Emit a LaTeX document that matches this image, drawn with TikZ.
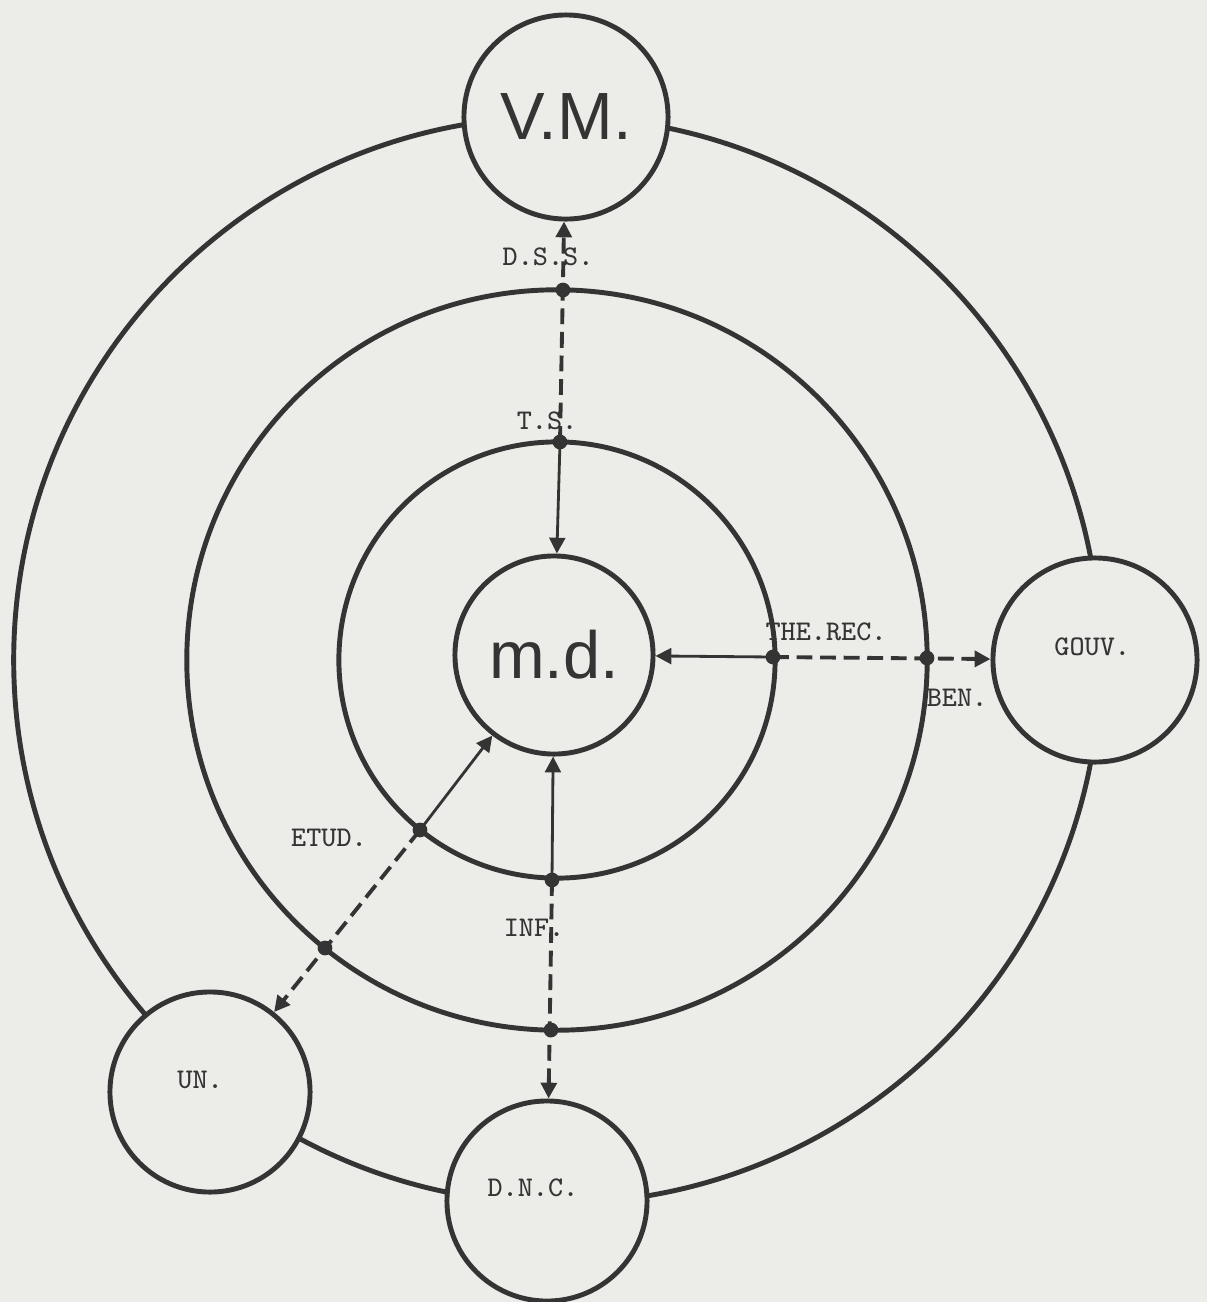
\documentclass[tikz,border=0pt]{standalone}
\usepackage{fontspec}
\usepackage{tikz}
\usetikzlibrary{arrows.meta, positioning, calc}
\newfontfamily\hubfont{Liberation Sans}
\definecolor{paper}{RGB}{236,236,233}
\definecolor{ink}{RGB}{52,52,52}

\begin{document}
\begin{tikzpicture}[x=0.01cm, y=-0.01cm]
    \tikzstyle{ring} = [draw=ink, line width=1.4pt]
    \tikzstyle{hub} = [circle, draw=ink, line width=1.4pt, fill=paper, inner sep=0pt, text=ink]
    \tikzstyle{bigtext} = [font=\hubfont\fontsize{19}{22}\selectfont]
    \tikzstyle{tag} = [font=\ttfamily\fontsize{8.1}{9}\selectfont, text=ink, inner sep=0pt]
    \tikzstyle{dot} = [circle, fill=ink, inner sep=0pt, minimum size=4.2pt]
    \tikzstyle{arrow} = [draw=ink, thick, -{Triangle[length=4.5pt,width=4.5pt]}]
    \tikzstyle{dasharrow} = [arrow, line width=1.1pt, dash pattern=on 4.5pt off 2.2pt]

    \fill[paper] (0,0) rectangle (1207,1302);
    \useasboundingbox (0,0) rectangle (1207,1302);

    % the three rings
    \coordinate (c) at (557,660);
    \draw[ring] (c) circle (5.43cm);
    \draw[ring] (c) circle (3.70cm);
    \draw[ring] (c) circle (2.18cm);

    % hubs
    \node[hub, bigtext, minimum size=1.98cm] (md) at (554,655) {m.d.};
    \node[hub, bigtext, minimum size=2.04cm] (vm) at (566,117) {V.M.};
    \node[hub, minimum size=2.04cm, label={[tag, xshift=-0.8pt, yshift=3.7pt]center:GOUV.}] (gouv) at (1095,660) {};
    \node[hub, minimum size=2cm, label={[tag, xshift=-2.8pt, yshift=3.4pt]center:UN.}] (un) at (210,1092) {};
    \node[hub, minimum size=2cm, label={[tag, xshift=-4pt, yshift=3.7pt]center:D.N.C.}] (dnc) at (547,1201) {};

    % points on the rings
    \coordinate (ts) at (560,442);
    \coordinate (dss) at (563,290);
    \coordinate (threc) at (773,657);
    \coordinate (ben) at (927,658);
    \coordinate (etud) at (420,830);
    \coordinate (etudout) at (325,948);
    \coordinate (inf) at (552,880);
    \coordinate (infout) at (551,1030);

    \draw[dasharrow] (ts) -- (vm);
    \draw[dasharrow] (threc) -- (gouv);
    \draw[dasharrow] (etud) -- (un);
    \draw[dasharrow] (inf) -- (dnc);
    \draw[arrow] (ts) -- (md);
    \draw[arrow] (threc) -- (md);
    \draw[arrow] (etud) -- (md);
    \draw[arrow] (inf) -- (md);

    \foreach \p in {ts, dss, threc, ben, etud, etudout, inf, infout}
        \node[dot] at (\p) {};

    \node[tag] (dsstxt) at (548,257) {D.S.S.};
    \node[tag] (tstxt) at (547,421) {T.S.};
    \node[tag] (threctxt) at (826,632) {THE.REC.};
    \node[tag] (bentxt) at (957,698) {BEN.};
    \node[tag] (etudtxt) at (329,838) {ETUD.};
    \node[tag] (inftxt) at (534,928) {INF.};
\end{tikzpicture}
\end{document}
